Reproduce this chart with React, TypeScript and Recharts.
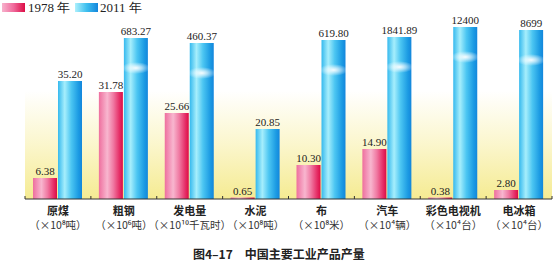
import React from 'react';
import { BarChart, Bar, XAxis, YAxis, CartesianGrid, LabelList } from 'recharts';

const categories = ['原煤', '粗钢', '发电量', '水泥', '布', '汽车', '彩色电视机', '电冰箱'];
const units = ['（×10⁸吨）', '（×10⁶吨）', '（×10¹⁰千瓦时）', '（×10⁸吨）', '（×10⁸米）', '（×10⁴辆）', '（×10⁴台）', '（×10⁴台）'];
const labels1978 = ['6.38', '31.78', '25.66', '0.65', '10.30', '14.90', '0.38', '2.80'];
const labels2011 = ['35.20', '683.27', '460.37', '20.85', '619.80', '1841.89', '12400', '8699'];
// drawn bar heights (bars are not to a common scale)
const heights1978 = [21, 107, 86, 1.5, 34, 50, 1.5, 9];
const heights2011 = [118, 161, 156, 70, 159, 162, 172, 169];

const data = categories.map((c, i) => ({
  name: c,
  unit: units[i],
  h1978: heights1978[i],
  h2011: heights2011[i],
  l1978: labels1978[i],
  l2011: labels2011[i],
}));

const CJK = '"Noto Sans CJK SC", "Noto Sans", sans-serif';
const SERIF = '"Liberation Serif", "DejaVu Serif", serif';

const CatTick = (props: any) => {
  const { x, y, payload, index, visibleTicksCount } = props;
  const off = payload && payload.offset ? payload.offset : 33;
  const d = data[index] || data.find((r) => r.name === payload.value);
  const last = index === (visibleTicksCount ? visibleTicksCount - 1 : 7);
  return (
    <g>
      <line x1={x - off} x2={x - off} y1={y - 3} y2={y} stroke="#333" strokeWidth={1} />
      {last && <line x1={x + off} x2={x + off} y1={y - 3} y2={y} stroke="#333" strokeWidth={1} />}
      <text x={x} y={y + 16} textAnchor="middle" fontFamily={CJK} fontSize={11} fontWeight="bold" fill="#222">
        {payload.value}
      </text>
      <text x={x} y={y + 30} textAnchor="middle" fontFamily={CJK} fontSize={10.5} fill="#333">
        {d ? d.unit : ''}
      </text>
    </g>
  );
};

const PinkBar = (props: any) => {
  const { x, y, width, height } = props;
  if (!height || height <= 0) return null;
  return <rect x={x} y={y} width={width} height={height} fill="url(#pinkGrad)" />;
};

const CyanBar = (props: any) => {
  const { x, y, width, height } = props;
  if (!height || height <= 0) return null;
  return (
    <g>
      <rect x={x} y={y} width={width} height={height} fill="url(#cyanGrad)" />
      {height > 140 && (
        <ellipse cx={x + width / 2} cy={y + 30} rx={width * 0.6} ry={6} fill="url(#glowGrad)" />
      )}
    </g>
  );
};

export default function App() {
  return (
    <div style={{ position: 'fixed', left: 0, top: 0, width: 553, height: 265, background: '#fff', overflow: 'hidden' }}>
      <BarChart
        width={553}
        height={265}
        data={data}
        margin={{ top: 19, right: 1, left: 25, bottom: 16 }}
        barGap={1}
      >
        <defs>
          <linearGradient id="pinkGrad" x1="0" y1="0" x2="1" y2="0">
            <stop offset="0%" stopColor="#ee6f9e" />
            <stop offset="35%" stopColor="#f8b6cf" />
            <stop offset="60%" stopColor="#f07aa3" />
            <stop offset="85%" stopColor="#e63068" />
            <stop offset="100%" stopColor="#dc0c45" />
          </linearGradient>
          <linearGradient id="cyanGrad" x1="0" y1="0" x2="1" y2="0">
            <stop offset="0%" stopColor="#35b9ee" />
            <stop offset="28%" stopColor="#a6eefc" />
            <stop offset="55%" stopColor="#4cc6f2" />
            <stop offset="85%" stopColor="#1c9be3" />
            <stop offset="100%" stopColor="#1386dc" />
          </linearGradient>
          <radialGradient id="glowGrad">
            <stop offset="0%" stopColor="#ffffff" stopOpacity={0.95} />
            <stop offset="40%" stopColor="#ffffff" stopOpacity={0.6} />
            <stop offset="100%" stopColor="#ffffff" stopOpacity={0} />
          </radialGradient>
          <linearGradient id="bgGrad" x1="0" y1="0" x2="0" y2="1">
            <stop offset="0%" stopColor="#ffffff" />
            <stop offset="40%" stopColor="#ffffff" />
            <stop offset="70%" stopColor="#fbf6cc" />
            <stop offset="100%" stopColor="#f5eb92" />
          </linearGradient>
        </defs>
        <CartesianGrid horizontal={false} vertical={false} fill="url(#bgGrad)" stroke="none" />
        <XAxis
          dataKey="name"
          height={50}
          tickLine={false}
          tickSize={0}
          tickMargin={0}
          axisLine={{ stroke: '#333', strokeWidth: 1 }}
          tick={<CatTick />}
          interval={0}
        />
        <YAxis hide domain={[0, 180]} />
        <Bar dataKey="h1978" barSize={24} shape={<PinkBar />} isAnimationActive={false}>
          <LabelList dataKey="l1978" position="top" offset={3} fill="#222" fontSize={11} fontFamily={SERIF} />
        </Bar>
        <Bar dataKey="h2011" barSize={24} shape={<CyanBar />} isAnimationActive={false}>
          <LabelList dataKey="l2011" position="top" offset={3} fill="#222" fontSize={11} fontFamily={SERIF} />
        </Bar>
      </BarChart>
      <div style={{ position: 'absolute', left: 2, top: 3, width: 23, height: 9, background: 'linear-gradient(to right, #f7b3cd, #f06a9c 50%, #dc0c45)' }} />
      <div style={{ position: 'absolute', left: 28, top: -1, fontFamily: SERIF, fontSize: 13, color: '#222', whiteSpace: 'nowrap' }}>1978 年</div>
      <div style={{ position: 'absolute', left: 75, top: 3, width: 23, height: 9, background: 'linear-gradient(to right, #aef0fc, #3fc0ef 50%, #1386dc)' }} />
      <div style={{ position: 'absolute', left: 100, top: -1, fontFamily: SERIF, fontSize: 13, color: '#222', whiteSpace: 'nowrap' }}>2011 年</div>
      <div style={{ position: 'absolute', left: 193, top: 245, fontFamily: CJK, fontSize: 12, fontWeight: 'bold', color: '#222', whiteSpace: 'nowrap' }}>
        <span>图4–17</span>
        <span style={{ marginLeft: 12 }}>中国主要工业产品产量</span>
      </div>
    </div>
  );
}
